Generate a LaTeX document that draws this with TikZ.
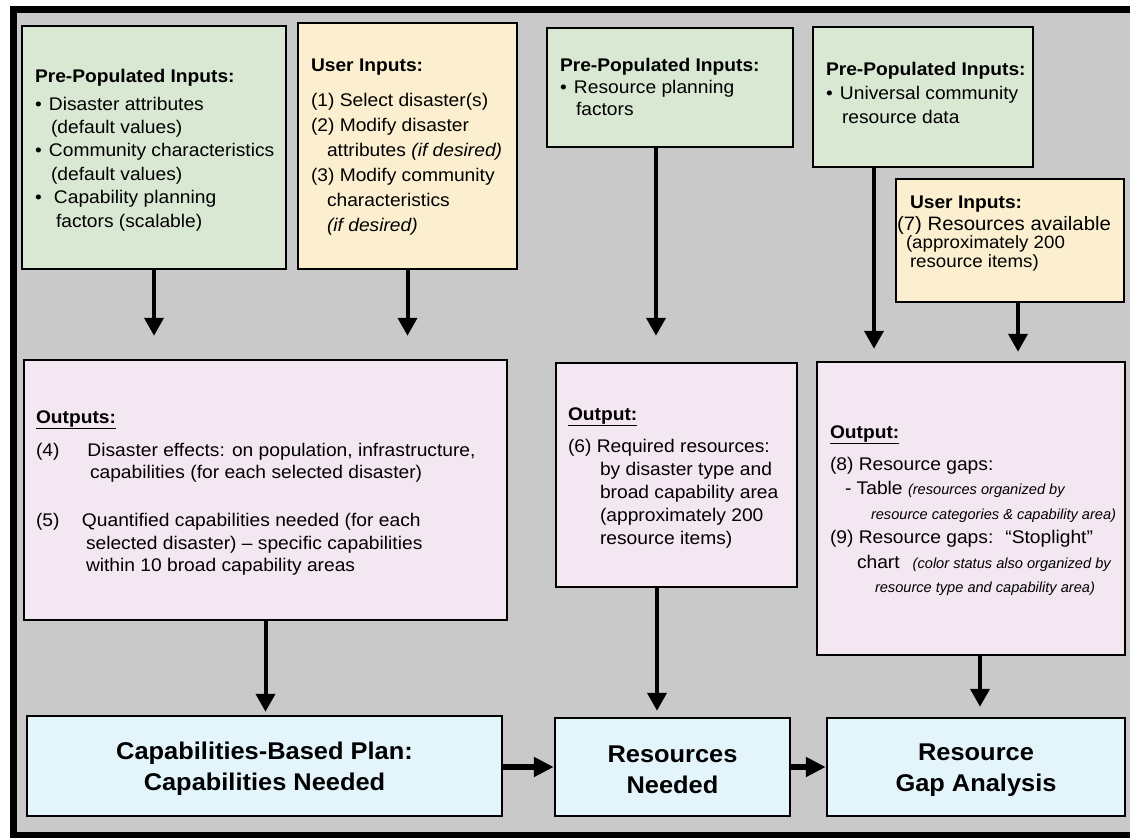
\documentclass[tikz,border=0pt]{standalone}
\usepackage{fontspec}
\setmainfont{Liberation Sans}[FakeStretch=1.05]
\newfontfamily\plainfam{Liberation Sans}
\usetikzlibrary{arrows.meta,calc}
\definecolor{bggray}{HTML}{C9C9C9}
\definecolor{greenfill}{HTML}{D9E8D3}
\definecolor{yellowfill}{HTML}{FCEFCF}
\definecolor{pinkfill}{HTML}{F3E7F1}
\definecolor{bluefill}{HTML}{E3F5FB}
\newcommand\smallit{\plainfam\itshape\fontsize{14.6}{17}\selectfont}
\tikzset{
  box/.style={draw=black, line width=2.5pt, inner sep=0pt},
  gbox/.style={box, fill=greenfill},
  ybox/.style={box, fill=yellowfill},
  pbox/.style={box, fill=pinkfill},
  bbox/.style={box, fill=bluefill},
  btxt/.style={align=center, inner sep=0pt, font=\fontsize{24.2}{31}\selectfont\bfseries},
  txt/.style={anchor=base west, inner sep=0pt, outer sep=0pt},
  varrow/.style={line width=4pt, -{Triangle[length=18pt,width=19pt]}},
  harrow/.style={line width=6.5pt, -{Triangle[length=20pt,width=19pt]}},
}
\begin{document}
\begin{tikzpicture}[x=1pt,y=-1pt]
\useasboundingbox (0,0) rectangle (1130,838);
\clip (0,0) rectangle (1130,838);
\fill[white] (0,0) rectangle (1130,838);
\fill[bggray] (13,9) rectangle (1145,835);
\draw[line width=7pt] (1145,9) -- (13,9) -- (13,835) -- (1145,835);

% boxes
\node[gbox, minimum width=264pt, minimum height=243pt] (A) at (154,147.5) {};
\node[ybox, minimum width=219pt, minimum height=246pt] (B) at (407.5,146) {};
\node[gbox, minimum width=246pt, minimum height=119pt] (C) at (670,87.5) {};
\node[gbox, minimum width=220pt, minimum height=140pt] (D) at (923,97) {};
\node[ybox, minimum width=228pt, minimum height=123pt] (E) at (1010,240.5) {};
\node[pbox, minimum width=483pt, minimum height=260pt] (F) at (265.5,490) {};
\node[pbox, minimum width=241pt, minimum height=224pt] (G) at (676.5,475) {};
\node[pbox, minimum width=308pt, minimum height=293pt] (H) at (971,508.5) {};
\node[bbox, minimum width=475pt, minimum height=100pt] (I) at (264.5,766) {};
\node[bbox, minimum width=235pt, minimum height=98pt] (J) at (672.5,767) {};
\node[bbox, minimum width=298pt, minimum height=98pt] (K) at (976,767) {};

% bottom texts
\node[btxt] (It) at (264.5,769) {Capabilities-Based Plan:\\Capabilities Needed};
\node[btxt] (Jt) at (672.5,770) {Resources\\Needed};
\node[btxt] (Kt) at (976,770) {Resource\\Gap Analysis};

% texts
\node[txt, font=\fontsize{18.3}{23.4}\selectfont] (At) at (35,82) {\begin{tabular}[t]{@{}l@{}}
\textbf{Pre-Populated Inputs:}\\[4.6pt]
\makebox[14pt][l]{•}Disaster attributes\\
\hspace*{16pt}(default values)\\
\makebox[14pt][l]{•}Community characteristics\\
\hspace*{16pt}(default values)\\
\makebox[19pt][l]{•}Capability planning\\
\hspace*{21pt}factors (scalable)
\end{tabular}};

\node[txt, font=\fontsize{18.3}{25}\selectfont] (Bt) at (311,71) {\begin{tabular}[t]{@{}l@{}}
\textbf{User Inputs:}\\[10pt]
(1) Select disaster(s)\\
(2) Modify disaster\\
\hspace*{16pt}attributes \textit{(if desired)}\\
(3) Modify community\\
\hspace*{16pt}characteristics\\
\hspace*{16pt}\textit{(if desired)}
\end{tabular}};

\node[txt, font=\fontsize{18.3}{22}\selectfont] (Ct) at (560,71) {\begin{tabular}[t]{@{}l@{}}
\textbf{Pre-Populated Inputs:}\\
\makebox[14pt][l]{•}Resource planning\\
\hspace*{16pt}factors
\end{tabular}};

\node[txt, font=\fontsize{18.3}{24}\selectfont] (Dt) at (826,75) {\begin{tabular}[t]{@{}l@{}}
\textbf{Pre-Populated Inputs:}\\
\makebox[14pt][l]{•}Universal community\\
\hspace*{16pt}resource data
\end{tabular}};

\node[txt, font=\fontsize{19.4}{22}\selectfont] (Et) at (897,208) {\begin{tabular}[t]{@{}l@{}}
\hspace*{13pt}\textbf{\fontsize{18.3}{22}\selectfont User Inputs:}\\
(7) Resources available\\[-4pt]
\hspace*{9pt}{\fontsize{17.8}{18}\selectfont (approximately 200}\\[-3pt]
\hspace*{13pt}{\fontsize{17.8}{18}\selectfont resource items)}
\end{tabular}};

\node[txt, font=\fontsize{18.3}{22.5}\selectfont] (Ft) at (36,423) {\begin{tabular}[t]{@{}l@{}}
\underline{\textbf{Outputs:}}\\[10.5pt]
\makebox[51.5pt][l]{(4)}Disaster effects: on population, infrastructure,\\
\hspace*{54pt}capabilities (for each selected disaster)\\[25.5pt]
\makebox[46pt][l]{(5)}Quantified capabilities needed (for each\\
\hspace*{50pt}selected disaster) – specific capabilities\\
\hspace*{50pt}within 10 broad capability areas
\end{tabular}};

\node[txt, font=\fontsize{18.3}{23}\selectfont] (Gt) at (568,420) {\begin{tabular}[t]{@{}l@{}}
\underline{\textbf{Output:}}\\[9pt]
(6) Required resources:\\
\hspace*{32pt}by disaster type and\\
\hspace*{32pt}broad capability area\\
\hspace*{32pt}(approximately 200\\
\hspace*{32pt}resource items)
\end{tabular}};

\node[txt, font=\fontsize{18.3}{24.5}\selectfont] (Ht) at (830,438) {\begin{tabular}[t]{@{}l@{}}
\underline{\textbf{Output:}}\\[7.5pt]
(8) Resource gaps:\\
\hspace*{15pt}- Table {\smallit (resources organized by}\\
\hspace*{41pt}{\smallit resource categories \& capability area)}\\
(9) Resource gaps:\hspace{12pt}“Stoplight”\\
\hspace*{27pt}chart\hspace{13pt}{\smallit (color status also organized by}\\
\hspace*{45pt}{\smallit resource type and capability area)}
\end{tabular}};

% connectors
\draw[varrow, shorten >=23pt] (A.south) -- (A.south |- F.north);
\draw[varrow, shorten >=23pt] (B.south) -- (B.south |- F.north);
\draw[varrow, shorten >=26pt] ($(C.south)+(-14,0)$) coordinate (c1) -- (c1 |- G.north);
\draw[varrow, shorten >=12pt] ($(D.south)+(-49,0)$) coordinate (d1) -- (d1 |- H.north);
\draw[varrow, shorten >=9pt] ($(E.south)+(8,0)$) coordinate (e1) -- (e1 |- H.north);
\draw[varrow, shorten >=3pt] (F.south) -- (F.south |- I.north);
\draw[varrow, shorten >=6pt] ($(G.south)+(-19.5,0)$) coordinate (g1) -- (g1 |- J.north);
\draw[varrow, shorten >=10pt] ($(H.south)+(9,0)$) coordinate (h1) -- (h1 |- K.north);
\draw[harrow] (I.east |- J.west) -- (J.west);
\draw[harrow] (J.east) -- (K.west);
\end{tikzpicture}
\end{document}
